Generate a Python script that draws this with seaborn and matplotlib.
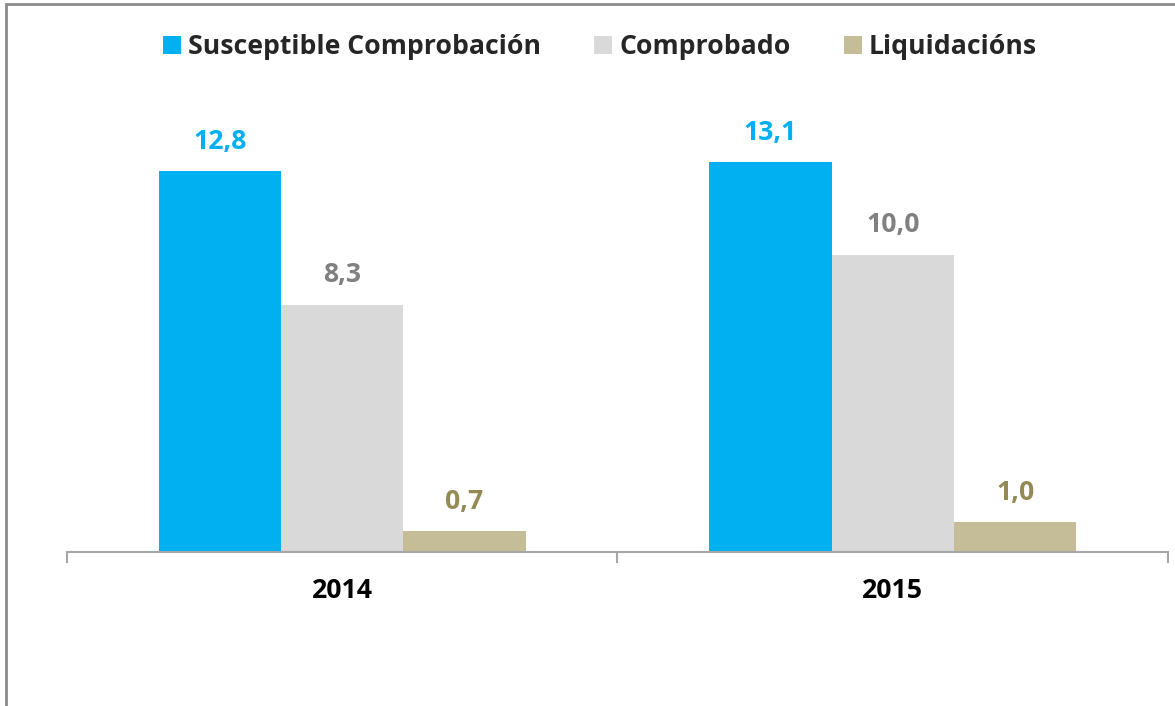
import matplotlib
matplotlib.use("Agg")
import matplotlib.pyplot as plt
import matplotlib.patches as mpatches
import seaborn as sns
import pandas as pd

years = ["2014", "2015"]
series = ["Susceptible Comprobación", "Comprobado", "Liquidacións"]
susceptible = [12.8, 13.1]
comprobado = [8.3, 10.0]
liquidacions = [0.7, 1.0]

bar_colors = ["#00B0F0", "#D9D9D9", "#C4BD97"]
label_colors = ["#00B0F0", "#808080", "#948A54"]

rows = []
for name, vals in zip(series, [susceptible, comprobado, liquidacions]):
    for y, v in zip(years, vals):
        rows.append({"year": y, "serie": name, "value": v})
df = pd.DataFrame(rows)

sns.set_style("white")
plt.rcParams["font.family"] = ["Open Sans", "DejaVu Sans"]
plt.rcParams["font.weight"] = "bold"
FS = 19.2

fig = plt.figure(figsize=(11.75, 7.06), dpi=100)
ax = fig.add_axes([67/1175, (706-552)/706, (1168-67)/1175, 476/706])

sns.barplot(data=df, x="year", y="value", hue="serie", hue_order=series,
            palette=bar_colors, width=2/3, gap=0, saturation=1,
            linewidth=0, ax=ax, legend=False)

for cont, col in zip(ax.containers, label_colors):
    labels = [f"{b.get_height():.1f}".replace(".", ",") for b in cont]
    ax.bar_label(cont, labels=labels, padding=12, color=col,
                 fontsize=FS, fontweight="bold")

ax.set_xlim(-0.5, 1.5)
ax.set_ylim(0, 16)
ax.set_xlabel("")
ax.set_ylabel("")
ax.set_yticks([])
for s in ["left", "right", "top"]:
    ax.spines[s].set_visible(False)
ax.spines["bottom"].set_color("#A6A6A6")
ax.spines["bottom"].set_linewidth(1.5)

ax.set_xticks([0, 1])
ax.set_xticklabels(years, fontsize=FS, fontweight="bold", color="black")
ax.tick_params(axis="x", which="major", length=0, pad=19)
ax.set_xticks([-0.5, 0.5, 1.5], minor=True)
ax.tick_params(axis="x", which="minor", length=8, width=1.5, color="#A6A6A6",
               direction="out", bottom=True)

handles = [mpatches.Patch(facecolor=c, edgecolor="none", label=s)
           for s, c in zip(series, bar_colors)]
fig.legend(handles=handles, loc="center", bbox_to_anchor=(600/1175, 1 - 47/706),
           ncol=3, frameon=False, handlelength=0.67,
           handleheight=0.67, handletextpad=0.27, columnspacing=2.0,
           prop={"weight": "bold", "size": FS})

border = mpatches.Rectangle((6/1175, -0.1), 1.2, (706-4)/706 + 0.1,
                            transform=fig.transFigure, fill=False,
                            edgecolor="#8C8C8C", linewidth=2, clip_on=False)
fig.patches.append(border)

fig.savefig("out.png", dpi=100)
